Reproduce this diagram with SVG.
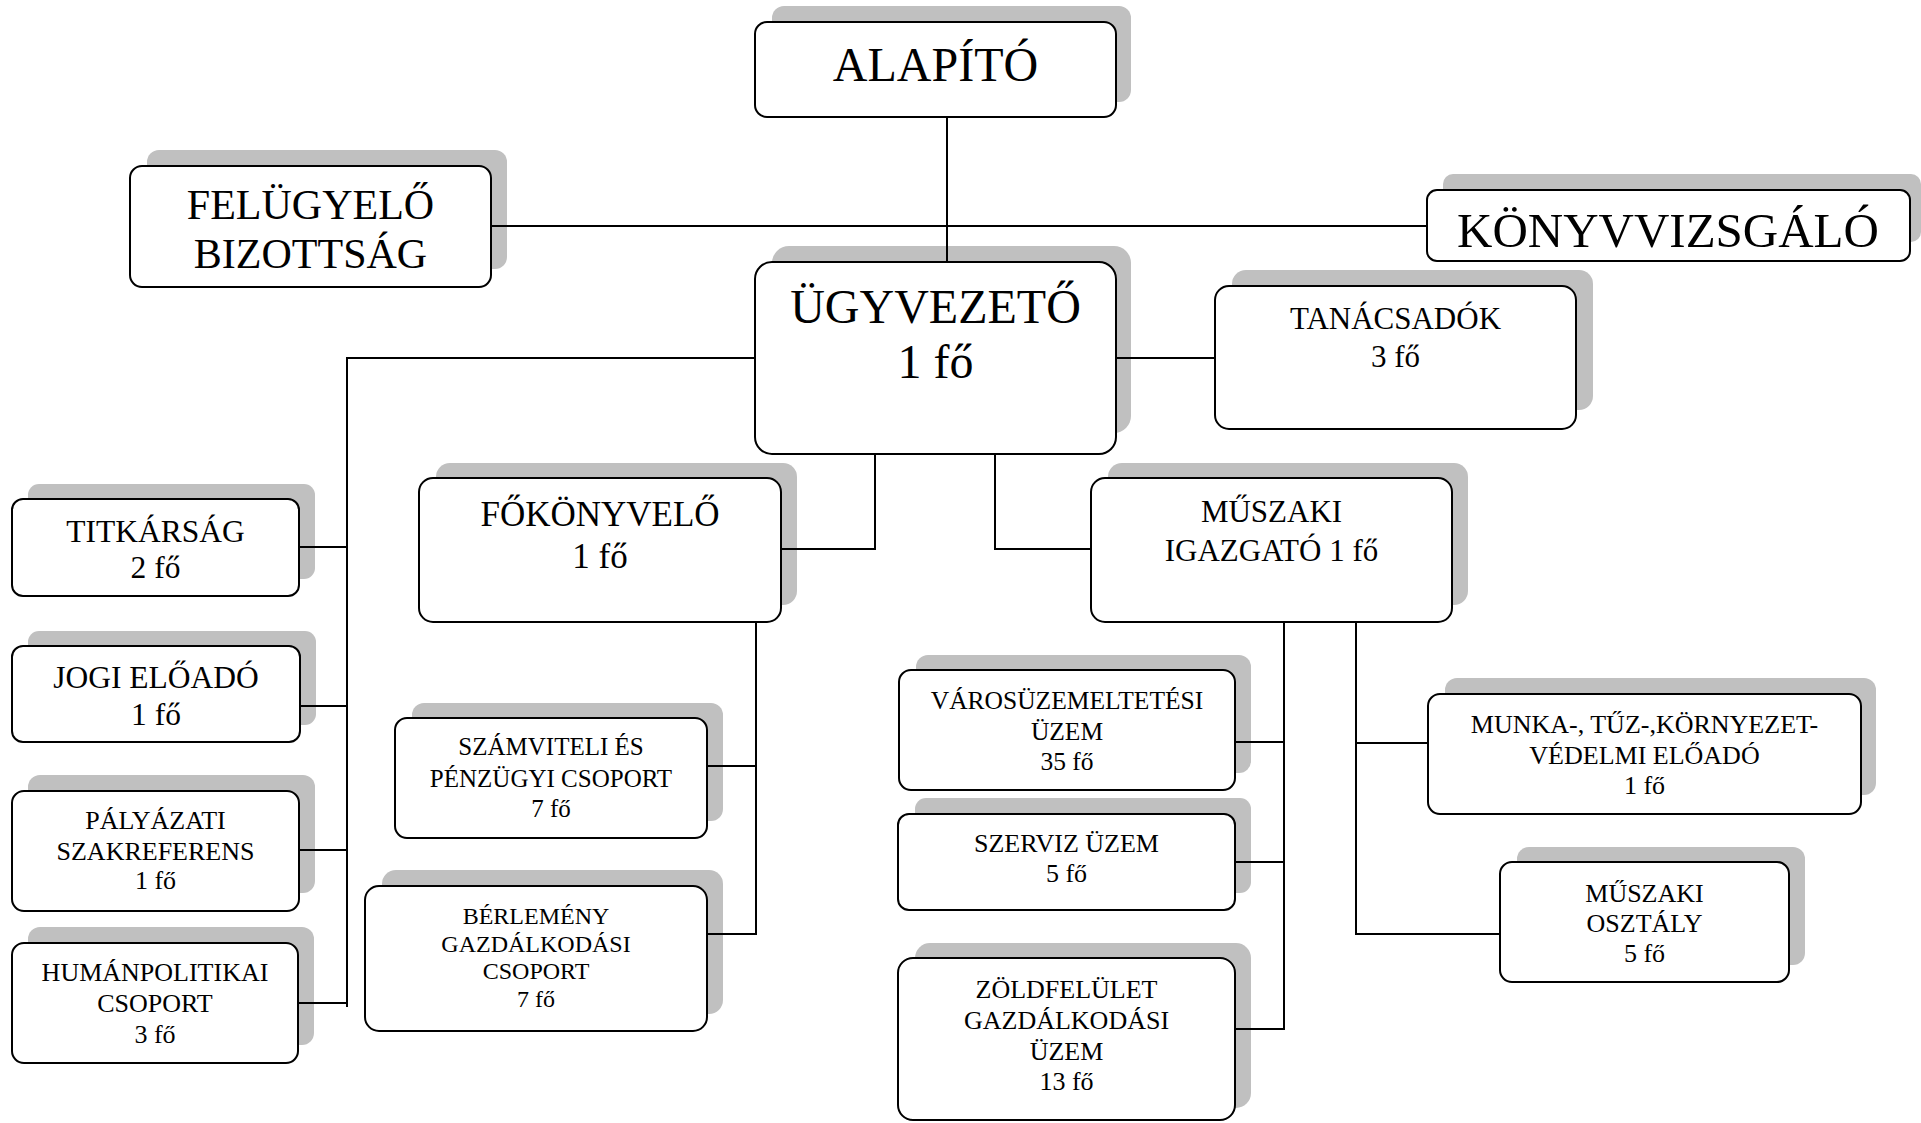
<svg xmlns="http://www.w3.org/2000/svg" width="1921" height="1123" viewBox="0 0 1921 1123">
<style>
.sh{fill:#c0c0c0;stroke:none}
.bx{fill:#fff;stroke:#000;stroke-width:2}
.cn{fill:none;stroke:#000;stroke-width:2}
text{font-family:"Liberation Serif","Times New Roman",serif;text-anchor:middle;fill:#000}
</style>
<rect width="1921" height="1123" fill="#fff"/>
<g id="alapito">
<rect class="sh" x="772" y="6" width="359" height="96" rx="12"/>
<rect class="bx" x="755" y="22" width="361" height="95" rx="12"/>
<text x="935.5" y="81" font-size="48">ALAPÍTÓ</text>
</g>
<g id="felugyelo">
<rect class="sh" x="147" y="150" width="360" height="119" rx="12"/>
<rect class="bx" x="130" y="166" width="361" height="121" rx="12"/>
<text x="310.5" y="219" font-size="42">FELÜGYELŐ</text>
<text x="310.5" y="268" font-size="42">BIZOTTSÁG</text>
</g>
<g id="konyvvizsgalo">
<rect class="sh" x="1443" y="174" width="478" height="68" rx="10"/>
<rect class="bx" x="1427" y="190" width="483" height="71" rx="10"/>
<text x="1668" y="247" font-size="49">KÖNYVVIZSGÁLÓ</text>
</g>
<g id="ugyvezeto">
<rect class="sh" x="772" y="246" width="359" height="187" rx="17"/>
<rect class="bx" x="755" y="262" width="361" height="192" rx="17"/>
<text x="935.5" y="323" font-size="48">ÜGYVEZETŐ</text>
<text x="935.5" y="378" font-size="48">1 fő</text>
</g>
<g id="tanacsadok">
<rect class="sh" x="1232" y="270" width="361" height="140" rx="14"/>
<rect class="bx" x="1215" y="286" width="361" height="143" rx="14"/>
<text x="1395.5" y="329" font-size="31">TANÁCSADÓK</text>
<text x="1395.5" y="367" font-size="31">3 fő</text>
</g>
<g id="titkarsag">
<rect class="sh" x="28" y="484" width="287" height="95" rx="11"/>
<rect class="bx" x="12" y="499" width="287" height="97" rx="11"/>
<text x="155.5" y="542" font-size="31.5">TITKÁRSÁG</text>
<text x="155.5" y="578" font-size="31.5">2 fő</text>
</g>
<g id="jogi">
<rect class="sh" x="28" y="631" width="288" height="94" rx="11"/>
<rect class="bx" x="12" y="646" width="288" height="96" rx="11"/>
<text x="156" y="688" font-size="31.5">JOGI ELŐADÓ</text>
<text x="156" y="725" font-size="31.5">1 fő</text>
</g>
<g id="palyazati">
<rect class="sh" x="28" y="775" width="287" height="118" rx="12"/>
<rect class="bx" x="12" y="791" width="287" height="120" rx="12"/>
<text x="155.5" y="829" font-size="26">PÁLYÁZATI</text>
<text x="155.5" y="860" font-size="26">SZAKREFERENS</text>
<text x="155.5" y="889" font-size="26">1 fő</text>
</g>
<g id="humanpolitikai">
<rect class="sh" x="28" y="927" width="286" height="118" rx="12"/>
<rect class="bx" x="12" y="943" width="286" height="120" rx="12"/>
<text x="155" y="981" font-size="26">HUMÁNPOLITIKAI</text>
<text x="155" y="1012" font-size="26">CSOPORT</text>
<text x="155" y="1043" font-size="26">3 fő</text>
</g>
<g id="fokonyvelo">
<rect class="sh" x="436" y="463" width="361" height="142" rx="14"/>
<rect class="bx" x="419" y="478" width="362" height="144" rx="14"/>
<text x="600" y="526" font-size="35">FŐKÖNYVELŐ</text>
<text x="600" y="568" font-size="35">1 fő</text>
</g>
<g id="szamviteli">
<rect class="sh" x="412" y="703" width="311" height="118" rx="12"/>
<rect class="bx" x="395" y="718" width="312" height="120" rx="12"/>
<text x="551" y="755" font-size="25">SZÁMVITELI ÉS</text>
<text x="551" y="787" font-size="25">PÉNZÜGYI CSOPORT</text>
<text x="551" y="817" font-size="25">7 fő</text>
</g>
<g id="berlemeny">
<rect class="sh" x="382" y="870" width="341" height="144" rx="14"/>
<rect class="bx" x="365" y="886" width="342" height="145" rx="14"/>
<text x="536" y="924" font-size="24">BÉRLEMÉNY</text>
<text x="536" y="952" font-size="24">GAZDÁLKODÁSI</text>
<text x="536" y="979" font-size="24">CSOPORT</text>
<text x="536" y="1007" font-size="24">7 fő</text>
</g>
<g id="muszaki-igazgato">
<rect class="sh" x="1108" y="463" width="360" height="142" rx="14"/>
<rect class="bx" x="1091" y="478" width="361" height="144" rx="14"/>
<text x="1271.5" y="522" font-size="31">MŰSZAKI</text>
<text x="1271.5" y="561" font-size="31">IGAZGATÓ 1 fő</text>
</g>
<g id="varosuzemeltetesi">
<rect class="sh" x="916" y="655" width="335" height="118" rx="12"/>
<rect class="bx" x="899" y="670" width="336" height="120" rx="12"/>
<text x="1067" y="709" font-size="25.5">VÁROSÜZEMELTETÉSI</text>
<text x="1067" y="740" font-size="25.5">ÜZEM</text>
<text x="1067" y="770" font-size="25.5">35 fő</text>
</g>
<g id="szerviz">
<rect class="sh" x="915" y="798" width="336" height="95" rx="11"/>
<rect class="bx" x="898" y="814" width="337" height="96" rx="11"/>
<text x="1066.5" y="852" font-size="26">SZERVIZ ÜZEM</text>
<text x="1066.5" y="882" font-size="26">5 fő</text>
</g>
<g id="zoldfelulet">
<rect class="sh" x="915" y="943" width="336" height="165" rx="15"/>
<rect class="bx" x="898" y="958" width="337" height="162" rx="15"/>
<text x="1066.5" y="998" font-size="26">ZÖLDFELÜLET</text>
<text x="1066.5" y="1029" font-size="26">GAZDÁLKODÁSI</text>
<text x="1066.5" y="1060" font-size="26">ÜZEM</text>
<text x="1066.5" y="1090" font-size="26">13 fő</text>
</g>
<g id="munka">
<rect class="sh" x="1445" y="678" width="431" height="117" rx="12"/>
<rect class="bx" x="1428" y="694" width="433" height="120" rx="12"/>
<text x="1644.5" y="733" font-size="26">MUNKA-, TŰZ-,KÖRNYEZET-</text>
<text x="1644.5" y="764" font-size="26">VÉDELMI ELŐADÓ</text>
<text x="1644.5" y="794" font-size="26">1 fő</text>
</g>
<g id="muszaki-osztaly">
<rect class="sh" x="1517" y="847" width="288" height="118" rx="12"/>
<rect class="bx" x="1500" y="862" width="289" height="120" rx="12"/>
<text x="1644.5" y="902" font-size="26">MŰSZAKI</text>
<text x="1644.5" y="932" font-size="26">OSZTÁLY</text>
<text x="1644.5" y="962" font-size="26">5 fő</text>
</g>
<g id="connectors">
<path class="cn" d="M947 117V262"/>
<path class="cn" d="M491 226H1427"/>
<path class="cn" d="M755 358H347V1007"/>
<path class="cn" d="M299 547H347M300 706H347M299 850H347M298 1003H347"/>
<path class="cn" d="M1116 358H1215"/>
<path class="cn" d="M875 454V549H781"/>
<path class="cn" d="M756 622V934H707M707 766H756"/>
<path class="cn" d="M995 454V549H1091"/>
<path class="cn" d="M1284 622V1029H1235M1235 742H1284M1235 862H1284"/>
<path class="cn" d="M1356 622V934H1500M1356 743H1428"/>
</g>
</svg>
